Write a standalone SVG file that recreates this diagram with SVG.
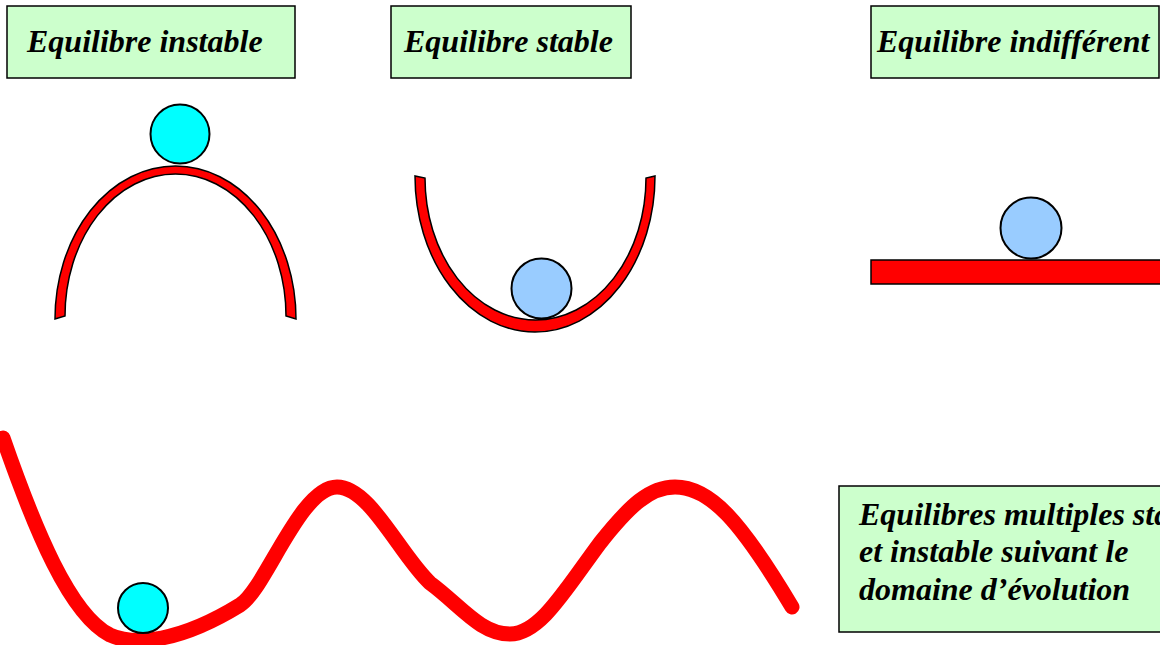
<svg xmlns="http://www.w3.org/2000/svg" width="1160" height="645" viewBox="0 0 1160 645">
<style>
.box{fill:#CCFFCC;stroke:#000;stroke-width:1.5}
.lbl{font-family:"Liberation Serif","Times New Roman",serif;font-weight:bold;font-style:italic;font-size:32px;fill:#000}
.shape{fill:#FF0000;stroke:#000;stroke-width:1.5}
.ball{stroke:#000;stroke-width:2}
.cyan{fill:#00FFFF}
.blue{fill:#99CCFF}
</style>
<rect width="1160" height="645" fill="#fff"/>
<g id="label-instable">
<rect class="box" x="7" y="6" width="288" height="72"/>
<text class="lbl" x="27" y="52">Equilibre instable</text>
</g>
<g id="label-stable">
<rect class="box" x="391" y="6" width="240" height="72"/>
<text class="lbl" x="404" y="52">Equilibre stable</text>
</g>
<g id="label-indifferent">
<rect class="box" x="871" y="6" width="288" height="72"/>
<text class="lbl" x="877" y="52">Equilibre indifférent</text>
</g>
<g id="arch">
<path class="shape" d="M55,319 A120.5,153 0 0 1 296,319 L286,316 A110.5,142 0 0 0 65,316 Z"/>
<circle class="ball cyan" cx="180" cy="134" r="29.5"/>
</g>
<g id="bowl">
<path class="shape" d="M415,176 A120,156 0 0 0 655,176 L646,178 A110.5,142 0 0 1 425,178 Z"/>
<circle class="ball blue" cx="541.5" cy="288.5" r="30"/>
</g>
<g id="flat">
<rect class="shape" x="871" y="260" width="290" height="24"/>
<circle class="ball blue" cx="1031" cy="228" r="30.5"/>
</g>
<g id="wave">
<path d="M3,438 C35,530 70,615 110,635 C135,646 180,642 240,605 C265,590 300,487 337,487 C370,487 400,555 430,583 C460,605 480,634 510,634 C540,634 565,590 600,543 C630,505 650,487 675,487 C710,487 740,520 792,607" fill="none" stroke="#FF0000" stroke-width="15" stroke-linecap="round" stroke-linejoin="round"/>
<circle class="ball cyan" cx="143" cy="608" r="25"/>
</g>
<g id="label-multiples">
<rect class="box" x="839" y="486" width="340" height="146"/>
<text class="lbl"><tspan x="859" y="525">Equilibres multiples stable</tspan><tspan x="859" y="562">et instable suivant le</tspan><tspan x="859" y="600">domaine d’évolution</tspan></text>
</g>
</svg>
